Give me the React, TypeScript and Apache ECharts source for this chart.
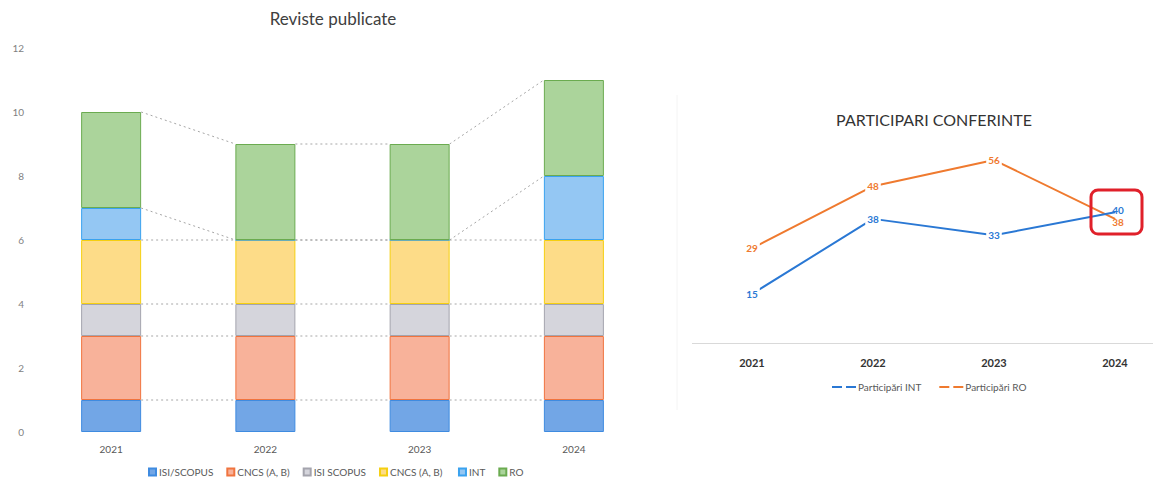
import React, { useEffect, useRef } from "react";
import * as echarts from "echarts";

const years = ["2021", "2022", "2023", "2024"];
const isiScopus = [1, 1, 1, 1];
const cncsAB = [2, 2, 2, 2];
const isiScopus2 = [1, 1, 1, 1];
const cncsAB2 = [2, 2, 2, 2];
const intJ = [1, 0, 0, 2];
const roJ = [3, 3, 3, 3];
const barNames = ["ISI/SCOPUS", "CNCS (A, B)", "ISI SCOPUS", "CNCS (A, B) ", "INT", "RO"];
const yTicks = [0, 2, 4, 6, 8, 10, 12];

const partInt = [15, 38, 33, 40];
const partRo = [29, 48, 56, 38];

const FONT = "Lato, 'Open Sans', sans-serif";

export default function App() {
  const ref = useRef<HTMLDivElement>(null);
  useEffect(() => {
    document.body.style.margin = "0";
    if (!ref.current) return;
    const chart = echarts.init(ref.current, undefined, { renderer: "svg" });
    const stacks = [isiScopus, cncsAB, isiScopus2, cncsAB2, intJ, roJ];
    const fills = ["#72a6e6", "#f8b29a", "#d5d5dc", "#fddc88", "#94c7f3", "#abd49b"];
    const borders = ["#3f8be0", "#f0743f", "#a4a4ad", "#f5cf10", "#3aa2ef", "#6bab50"];
    const cum: number[][] = [];
    stacks.forEach((s, k) => {
      cum.push(s.map((v, i) => v + (k > 0 ? cum[k - 1][i] : 0)));
    });
    const connectors: number[][] = [];
    for (let i = 0; i < years.length - 1; i++) {
      for (let k = 0; k < stacks.length; k++) {
        connectors.push([i, cum[k][i], cum[k][i + 1]]);
      }
    }
    const halfBar = 30;
    const barSeries = stacks.map((s, k) => ({
      name: barNames[k],
      type: "bar",
      stack: "total",
      xAxisIndex: 0,
      yAxisIndex: 0,
      barWidth: halfBar * 2,
      data: s,
      itemStyle: { color: fills[k], borderColor: borders[k], borderWidth: 1 },
    }));
    const lbl = (color: string, arr: number[], offY: number) =>
      arr.map((v, i) => ({
        value: v,
        label: {
          show: true,
          position: "inside",
          color,
          fontSize: 10,
          fontWeight: "bold",
          fontFamily: FONT,
          offset: i === 3 ? [3, offY] : [0, 0],
          backgroundColor: i === 3 ? "transparent" : "#ffffff",
          padding: [1, 2],
        },
      }));
    chart.setOption({
      animation: false,
      title: [
        {
          text: "Reviste publicate",
          left: 328,
          top: 5,
          textAlign: "center",
          textStyle: { fontFamily: FONT, fontSize: 17, fontWeight: "normal", color: "#404040" },
        },
        {
          text: "PARTICIPARI CONFERINTE",
          left: 929,
          top: 106,
          textAlign: "center",
          textStyle: { fontFamily: FONT, fontSize: 16, fontWeight: "normal", color: "#333333" },
        },
      ],
      legend: [
        {
          data: barNames,
          left: 148,
          top: 467,
          padding: 0,
          orient: "horizontal",
          itemWidth: 7,
          itemHeight: 7,
          itemGap: 13,
          icon: "rect",
          textStyle: { fontFamily: FONT, fontSize: 10, color: "#595959", padding: [0, 0, 0, -2] },
        },
        {
          data: ["Participări INT", "Participări RO"],
          left: 832,
          top: 382,
          padding: 0,
          itemWidth: 24,
          itemHeight: 2,
          itemGap: 18,
          icon: "path://M0 0H10V2H0Z M14 0H24V2H14Z",
          textStyle: { fontFamily: FONT, fontSize: 10, color: "#595959", padding: [0, 0, 0, -3] },
        },
      ],
      grid: [
        { left: 34, top: 48, width: 617, height: 384 },
        { left: 752, top: 147, width: 363, height: 196 },
      ],
      xAxis: [
        {
          type: "category",
          gridIndex: 0,
          data: years,
          axisLine: { show: false },
          axisTick: { show: false },
          axisLabel: { fontFamily: FONT, fontSize: 10, color: "#595959", margin: 12 },
        },
        {
          type: "category",
          gridIndex: 1,
          data: years,
          boundaryGap: false,
          axisLine: { show: false },
          axisTick: { show: false },
          axisLabel: { fontFamily: FONT, fontSize: 11, color: "#333333", fontWeight: "bold", margin: 14 },
        },
      ],
      yAxis: [
        {
          type: "value",
          gridIndex: 0,
          min: yTicks[0],
          max: yTicks[yTicks.length - 1],
          interval: 2,
          axisLine: { show: false },
          axisTick: { show: false },
          splitLine: { show: false },
          axisLabel: { fontFamily: FONT, fontSize: 10, color: "#7f7f7f", margin: 10 },
        },
        {
          type: "value",
          gridIndex: 1,
          min: 0,
          max: 60,
          show: false,
          splitLine: { show: false },
        },
      ],
      series: [
        ...barSeries,
        {
          type: "custom",
          xAxisIndex: 0,
          yAxisIndex: 0,
          silent: true,
          z: 1,
          encode: { x: 0, y: 1 },
          data: connectors,
          renderItem: (params: any, api: any) => {
            const i = api.value(0);
            const a = api.coord([i, api.value(1)]);
            const b = api.coord([i + 1, api.value(2)]);
            return {
              type: "line",
              shape: { x1: a[0] + halfBar, y1: a[1], x2: b[0] - halfBar, y2: b[1] },
              style: { stroke: "#a6a6a6", lineWidth: 1, lineDash: [2, 3] },
            };
          },
        },
        {
          name: "Participări INT",
          type: "line",
          xAxisIndex: 1,
          yAxisIndex: 1,
          symbol: "circle",
          symbolSize: 1,
          data: lbl("#2a78d4", partInt, -2),
          lineStyle: { color: "#2a78d4", width: 2 },
          itemStyle: { color: "#2a78d4" },
          z: 3,
        },
        {
          name: "Participări RO",
          type: "line",
          xAxisIndex: 1,
          yAxisIndex: 1,
          symbol: "circle",
          symbolSize: 1,
          data: lbl("#ef7a2f", partRo, 3),
          lineStyle: { color: "#ef7a2f", width: 2 },
          itemStyle: { color: "#ef7a2f" },
          z: 2,
        },
      ],
      graphic: [
        {
          type: "line",
          shape: { x1: 692, y1: 343.5, x2: 1153, y2: 343.5 },
          style: { stroke: "#d9d9d9", lineWidth: 1 },
          z: 0,
        },
        {
          type: "rect",
          shape: { x: 1091, y: 190, width: 51, height: 44, r: 7 },
          style: { fill: "none", stroke: "#e0202a", lineWidth: 3 },
          z: 10,
        },
        {
          type: "line",
          shape: { x1: 677, y1: 95, x2: 677, y2: 410 },
          style: { stroke: "#f4f4f4", lineWidth: 1 },
        },
      ],
    });
    return () => chart.dispose();
  }, []);
  return <div ref={ref} style={{ width: 1153, height: 480 }} />;
}
